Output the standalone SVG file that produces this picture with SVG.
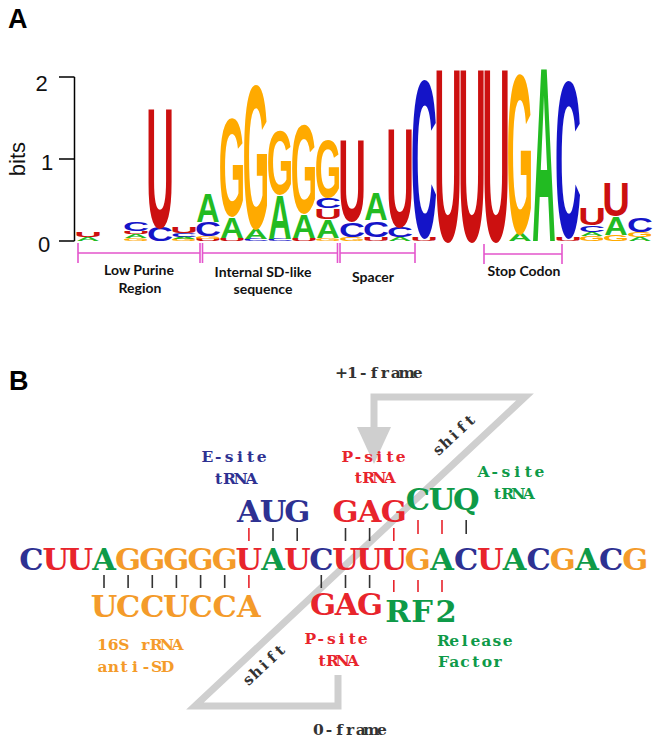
<svg xmlns="http://www.w3.org/2000/svg" width="661" height="747" viewBox="0 0 661 747">
<style>
.L{font-family:"Liberation Sans",Arial,sans-serif;font-weight:bold;font-size:100px;text-anchor:middle}
.r{fill:#cc1010}.b{fill:#1414c8}.g{fill:#22bb22}.o{fill:#ffaa00}
.ax{stroke:#000;stroke-width:1.5;fill:none}
.num{font-family:"Liberation Sans",Arial,sans-serif;font-size:22px;fill:#111}
.br{stroke:#e455cc;stroke-width:1.6;fill:none}
.rl{font-family:Lato,"Liberation Sans",sans-serif;font-weight:bold;font-size:14px;fill:#111;text-anchor:middle}
.pn{font-family:"Liberation Sans",Arial,sans-serif;font-weight:bold;font-size:27px;fill:#000}
.m{font-family:"DejaVu Serif","Liberation Serif",serif;font-weight:bold;text-anchor:middle}
.big{font-size:30.5px}
.sm{font-size:15.5px}
.N{fill:#2e3192}.R{fill:#e8242c}.G{fill:#0e9a48}.O{fill:#f49b2a}.K{fill:#333}
.tk{stroke:#333;stroke-width:1.6}
.tr{stroke:#e8242c;stroke-width:1.6}
.gr{stroke:#cfcfcf;stroke-width:7;fill:none;stroke-linejoin:miter}
</style>

<g id="panelA">
<text class="pn" x="8" y="28">A</text>
<g id="axis">
<path class="ax" d="M74.5,77 V241 M59,77 H74.5 M59,159 H74.5 M59,241 H74.5"/>
<text class="num" x="41.5" y="91" text-anchor="middle">2</text>
<text class="num" x="47" y="170" text-anchor="middle">1</text>
<text class="num" x="44" y="252" text-anchor="middle">0</text>
<text class="num" transform="translate(25,159) rotate(-90)" text-anchor="middle">bits</text>
</g>
<g id="logo">
<text class="L g" transform="matrix(0.324,0,0,0.056,88,241)">A</text>
<text class="L r" transform="matrix(0.383,0,0,0.07,88,237)">U</text>
<text class="L o" transform="matrix(0.338,0,0,0.042,136,241)">G</text>
<text class="L g" transform="matrix(0.324,0,0,0.056,136,238)">A</text>
<text class="L r" transform="matrix(0.383,0,0,0.042,136,234)">U</text>
<text class="L b" transform="matrix(0.36,0,0,0.125,136,231)">C</text>
<text class="L b" transform="matrix(0.36,0,0,0.194,160,241)">C</text>
<text class="L r" transform="matrix(0.383,0,0,1.708,160,227)">U</text>
<text class="L o" transform="matrix(0.338,0,0,0.028,184,241)">G</text>
<text class="L g" transform="matrix(0.324,0,0,0.028,184,239)">A</text>
<text class="L b" transform="matrix(0.36,0,0,0.056,184,237)">C</text>
<text class="L r" transform="matrix(0.383,0,0,0.083,184,233)">U</text>
<text class="L r" transform="matrix(0.383,0,0,0.028,208,241)">U</text>
<text class="L o" transform="matrix(0.338,0,0,0.042,208,239)">G</text>
<text class="L b" transform="matrix(0.36,0,0,0.194,208,236)">C</text>
<text class="L g" transform="matrix(0.324,0,0,0.4,208,222)">A</text>
<text class="L r" transform="matrix(0.383,0,0,0.042,232,241)">U</text>
<text class="L g" transform="matrix(0.324,0,0,0.3,232,238)">A</text>
<text class="L o" transform="matrix(0.338,0,0,1.39,232,216)">G</text>
<text class="L b" transform="matrix(0.36,0,0,0.028,256,241)">C</text>
<text class="L g" transform="matrix(0.324,0,0,0.14,256,239)">A</text>
<text class="L o" transform="matrix(0.338,0,0,2.05,256,228)">G</text>
<text class="L b" transform="matrix(0.36,0,0,0.028,280,241)">C</text>
<text class="L g" transform="matrix(0.324,0,0,0.625,280,239)">A</text>
<text class="L o" transform="matrix(0.338,0,0,0.917,280,194)">G</text>
<text class="L r" transform="matrix(0.383,0,0,0.042,304,241)">U</text>
<text class="L g" transform="matrix(0.324,0,0,0.333,304,238)">A</text>
<text class="L o" transform="matrix(0.338,0,0,1.26,304,213)">G</text>
<text class="L o" transform="matrix(0.338,0,0,0.042,328,241)">G</text>
<text class="L g" transform="matrix(0.324,0,0,0.25,328,238)">A</text>
<text class="L r" transform="matrix(0.383,0,0,0.139,328,219)">U</text>
<text class="L b" transform="matrix(0.36,0,0,0.139,328,208)">C</text>
<text class="L o" transform="matrix(0.338,0,0,0.82,328,197)">G</text>
<text class="L o" transform="matrix(0.338,0,0,0.056,352,241)">G</text>
<text class="L b" transform="matrix(0.36,0,0,0.208,352,237)">C</text>
<text class="L r" transform="matrix(0.383,0,0,1.167,352,221)">U</text>
<text class="L r" transform="matrix(0.383,0,0,0.056,376,241)">U</text>
<text class="L b" transform="matrix(0.36,0,0,0.222,376,237)">C</text>
<text class="L g" transform="matrix(0.324,0,0,0.39,376,220)">A</text>
<text class="L g" transform="matrix(0.324,0,0,0.056,400,241)">A</text>
<text class="L b" transform="matrix(0.36,0,0,0.139,400,237)">C</text>
<text class="L r" transform="matrix(0.383,0,0,1.417,400,227)">U</text>
<text class="L r" transform="matrix(0.383,0,0,0.056,424,241)">U</text>
<text class="L b" transform="matrix(0.36,0,0,2.25,424,237)">C</text>
<text class="L r" transform="matrix(0.383,0,0,2.47,448,241)">U</text>
<text class="L r" transform="matrix(0.383,0,0,2.47,472,241)">U</text>
<text class="L r" transform="matrix(0.383,0,0,2.47,496,241)">U</text>
<text class="L g" transform="matrix(0.324,0,0,0.11,520,241)">A</text>
<text class="L o" transform="matrix(0.338,0,0,2.26,520,233)">G</text>
<text class="L g" transform="matrix(0.324,0,0,2.49,544,241)">A</text>
<text class="L r" transform="matrix(0.383,0,0,0.056,568,241)">U</text>
<text class="L b" transform="matrix(0.36,0,0,2.22,568,237)">C</text>
<text class="L o" transform="matrix(0.338,0,0,0.07,592,241)">G</text>
<text class="L g" transform="matrix(0.324,0,0,0.056,592,236)">A</text>
<text class="L b" transform="matrix(0.36,0,0,0.097,592,232)">C</text>
<text class="L r" transform="matrix(0.383,0,0,0.236,592,225)">U</text>
<text class="L o" transform="matrix(0.338,0,0,0.083,616,241)">G</text>
<text class="L g" transform="matrix(0.324,0,0,0.25,616,235)">A</text>
<text class="L r" transform="matrix(0.383,0,0,0.472,616,216)">U</text>
<text class="L g" transform="matrix(0.324,0,0,0.056,640,241)">A</text>
<text class="L o" transform="matrix(0.338,0,0,0.07,640,237)">G</text>
<text class="L b" transform="matrix(0.36,0,0,0.194,640,232)">C</text>
</g>
<g id="regions">
<path class="br" d="M78,243 V263 M78,253 H200 M200,243 V263"/>
<path class="br" d="M202.5,243 V263 M202.5,253 H337.5 M337.5,243 V263"/>
<path class="br" d="M340,243 V263 M340,253 H415 M415,243 V263"/>
<path class="br" d="M484,244 V264 M484,254 H562 M562,244 V264"/>
<text class="rl" x="139" y="275">Low Purine</text>
<text class="rl" x="140" y="293">Region</text>
<text class="rl" x="263" y="277">Internal SD-like</text>
<text class="rl" x="263" y="294">sequence</text>
<text class="rl" x="373" y="282">Spacer</text>
<text class="rl" x="524" y="276">Stop Codon</text>
</g>
</g>

<g id="panelB">
<text class="pn" x="9" y="390">B</text>
<g id="connectors">
<path class="gr" d="M374,430 V397 H525 L195,706 H338 V675"/>
<polygon points="357,427 391,427 374,464" fill="#cfcfcf"/>
<g id="ticks">
<path class="tr" d="M248.9,528 V541 M393.8,528 V541 M418,520 V534 M442,520 V534 M248.9,575 V588 M393.8,580 V592 M418,580 V592 M442,580 V592"/>
<path class="tk" d="M273,528 V541 M297.2,528 V541 M345.5,528 V541 M369.6,528 V541 M466.2,520 V534 M104,575 V588 M128.1,575 V588 M152.3,575 V588 M176.4,575 V588 M200.6,575 V588 M224.7,575 V588 M321.3,575 V588 M345.5,575 V588 M369.6,575 V588"/>
</g>
</g>
<g id="frame-labels">
<text class="m K" font-size="15" transform="translate(454,435) rotate(-43)" x="-21.6 -10.8 0 10.8 21.6" y="5">shift</text>
<text class="m K" font-size="15" transform="translate(264,665) rotate(-43)" x="-21.6 -10.8 0 10.8 21.6" y="5">shift</text>
<text class="m sm K" x="341.4 352.3 363.2 374.1 384.9 395.8 406.7 417.6" y="378">+1-frame</text>
<text class="m sm K" x="318.3 328.9 339.5 350.1 360.7 371.3 381.9" y="735">0-frame</text>
</g>
<g id="mrna">
<text class="m big" y="570"><tspan class="N" x="31.5">C</tspan><tspan class="R" x="55.7 79.8">UU</tspan><tspan class="G" x="104">A</tspan><tspan class="O" x="128.1 152.3 176.4 200.6 224.7">GGGGG</tspan><tspan class="R" x="248.9">U</tspan><tspan class="G" x="273">A</tspan><tspan class="R" x="297.2">U</tspan><tspan class="N" x="321.3">C</tspan><tspan class="R" x="345.5 369.6 393.8">UUU</tspan><tspan class="O" x="417.9">G</tspan><tspan class="G" x="442">A</tspan><tspan class="N" x="466.2">C</tspan><tspan class="R" x="490.4">U</tspan><tspan class="G" x="514.5">A</tspan><tspan class="N" x="538.7">C</tspan><tspan class="O" x="562.8">G</tspan><tspan class="G" x="587">A</tspan><tspan class="N" x="611.1">C</tspan><tspan class="O" x="635.3">G</tspan></text>
</g>
<g id="e-site">
<text class="m big N" x="248.9 273 297.2" y="522">AUG</text>
<text class="m sm N" x="207.4 218.2 229.1 239.9 250.7 261.6" y="462">E-site</text>
<text class="m sm N" x="218.5 229.5 240.5 251.5" y="484">tRNA</text>
</g>
<g id="p-site-top">
<text class="m big R" x="345.5 369.6 393.8" y="522">GAG</text>
<text class="m sm R" x="347.3 358 368.7 379.3 390 400.7" y="462">P-site</text>
<text class="m sm R" x="358.3 368.8 379.3 389.8" y="483">tRNA</text>
</g>
<g id="a-site">
<text class="m big G" x="417.9 442 466.2" y="510">CUQ</text>
<text class="m sm G" x="483.6 494.8 505.9 517.1 528.3 539.4" y="477">A-site</text>
<text class="m sm G" x="497.3 507.8 518.3 528.8" y="499">tRNA</text>
</g>
<g id="anti-sd">
<text class="m big O" x="104 128.1 152.3 176.4 200.6 224.7 248.9" y="617">UCCUCCA</text>
<text class="m sm O" x="102.4 113.1 123.9 134.6 145.4 156.1 166.9 177.6" y="650">16S rRNA</text>
<text class="m sm O" x="102.4 113.3 124.1 135 145.9 156.7 167.6" y="672">anti-SD</text>
</g>
<g id="p-site-bottom">
<text class="m big R" x="323 346.5 370" y="615">GAG</text>
<text class="m sm R" x="310.3 320.8 331.3 341.8 352.3 362.8" y="644">P-site</text>
<text class="m sm R" x="322.1 332.4 342.6 352.9" y="666">tRNA</text>
</g>
<g id="rf2">
<text class="m big G" x="398 422 446" y="622">RF2</text>
<text class="m sm G" x="443.4 454.1 464.8 475.5 486.2 496.9 507.6" y="646">Release</text>
<text class="m sm G" x="443.4 454.3 465.1 475.9 486.8 497.6" y="667">Factor</text>
</g>
</g>
</svg>
